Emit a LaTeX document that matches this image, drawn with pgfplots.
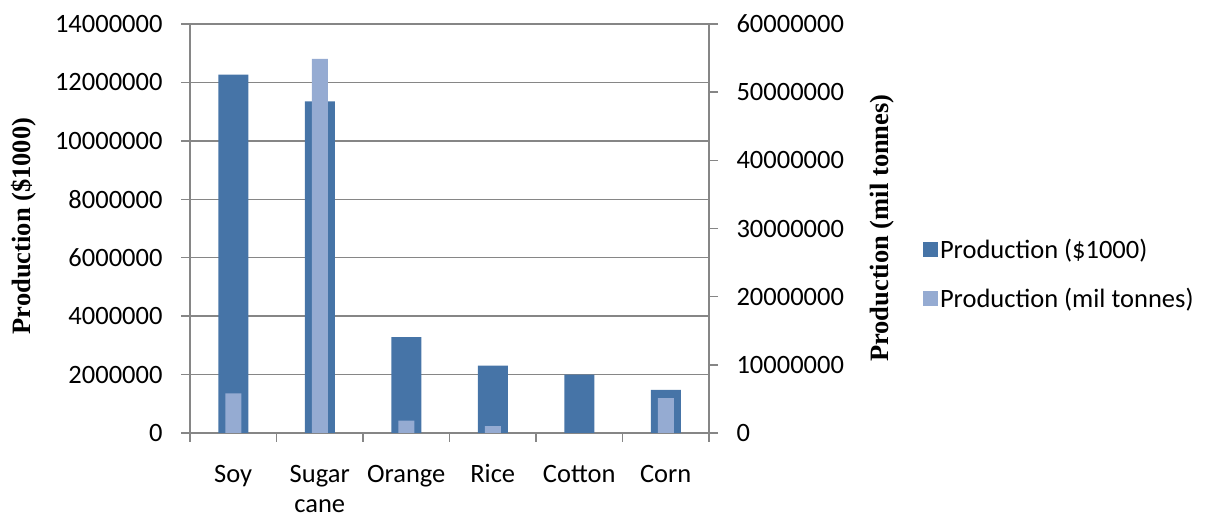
\documentclass[border=0pt]{standalone}
\usepackage{fontspec}
\setmainfont{Carlito}
\newfontfamily\titlefont{Liberation Serif}
\usepackage{pgfplots}
\usepackage{pgfplotstable}
\pgfplotsset{compat=1.18}

\definecolor{darkbar}{RGB}{70,116,167}
\definecolor{lightbar}{RGB}{149,171,210}
\definecolor{axisgray}{RGB}{134,134,134}

% production value in $1000 (left axis)
\pgfplotstableread{
idx value
0 12270000
1 11350000
2 3280000
3 2310000
4 2000000
5 1480000
}\valuetable

% production in tonnes (right axis)
\pgfplotstableread{
idx tonnes
0 5800000
1 54900000
2 1800000
3 1000000
5 5100000
}\tonnestable

\pgfplotsset{
  common/.style={
    at={(190pt,85pt)}, anchor=south west,
    scale only axis, width=519pt, height=409pt,
    xmin=-0.5, xmax=5.5, ymin=0,
    axis line style={axisgray, line width=1.5pt},
    tick style={axisgray, line width=1.5pt},
    major tick length=9pt, minor tick length=9pt, tick align=outside,
    scaled y ticks=false,
    yticklabel style={/pgf/number format/fixed, /pgf/number format/1000 sep={}},
    /pgf/number format/assume math mode=true,
    ybar, bar shift=0pt,
    clip=false,
  },
}

\begin{document}
\begin{tikzpicture}[font=\fontsize{26.5}{33}\selectfont]
\useasboundingbox (0,0) rectangle (1207pt,518pt);

\begin{axis}[common,
  axis x line*=bottom, axis y line*=left,
  ymax=14000000,
  ytick={0,2000000,4000000,6000000,8000000,10000000,12000000,14000000},
  ymajorgrids, grid style={axisgray, line width=1.5pt},
  yticklabel style={xshift=-15pt},
  xtick={0,1,2,3,4,5},
  xticklabels={\strut Soy,\strut Sugar\\cane,\strut Orange,\strut Rice,\strut Cotton,\strut Corn},
  xticklabel style={align=center, anchor=north, inner sep=0pt, yshift=-19pt,
    font=\fontsize{26.5}{30}\selectfont},
  major x tick style={draw=none},
  minor xtick={-0.5,0.5,1.5,2.5,3.5,4.5,5.5},
  bar width=30pt,
  ylabel={\titlefont\bfseries Production (\$1000)},
  ylabel style={at={(axis description cs:-0.3198,0.506)}, anchor=center},
]
\addplot[fill=darkbar, draw=none] table[x=idx, y=value] {\valuetable};
\end{axis}

\begin{axis}[common,
  axis x line=none, axis y line*=right,
  ymax=60000000,
  ytick={0,10000000,20000000,30000000,40000000,50000000,60000000},
  yticklabel style={xshift=15pt},
  bar width=16pt,
  ylabel={\titlefont\bfseries Production (mil tonnes)},
  ylabel style={at={(axis description cs:1.333,0.501)}, anchor=center, rotate=0},
  legend cell align=left,
  legend image code/.code={\fill[#1] (0pt,-7.5pt) rectangle (15pt,7.5pt);},
  legend style={at={(axis description cs:1.412,0.389)}, anchor=west,
    draw=none, fill=none, inner sep=0pt, row sep=24pt,
    font=\fontsize{26.5}{33}\selectfont},
]
\addlegendimage{fill=darkbar, draw=none}
\addlegendentry{Production (\$1000)}
\addplot[fill=lightbar, draw=none] table[x=idx, y=tonnes] {\tonnestable};
\addlegendentry{Production (mil tonnes)}
\end{axis}
\end{tikzpicture}
\end{document}
